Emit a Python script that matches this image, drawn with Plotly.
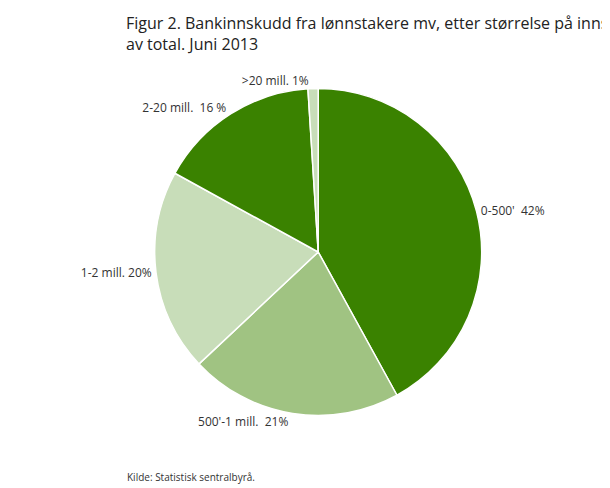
import plotly.graph_objects as go

categories = ["0-500'", "500'-1 mill.", "1-2 mill.", "2-20 mill.", ">20 mill."]
values = [42, 21, 20, 16, 1]
label_text = ["0-500'  42%", "500'-1 mill.  21%", "1-2 mill. 20%", "2-20 mill.  16 %", ">20 mill. 1%"]
colors = ["#3a8200", "#a0c382", "#c8ddb9", "#3a8200", "#c8ddb9"]

fig = go.Figure(go.Pie(
    labels=categories, values=values, text=label_text,
    textinfo="text", textposition="outside", sort=False, direction="clockwise",
    rotation=0, marker=dict(colors=colors, line=dict(color="white", width=1.5)),
    textfont=dict(family="Open Sans", size=12, color="#333333"),
    showlegend=False, domain=dict(x=[0.017, 0.917], y=[0.165, 0.835]),
))
fig.update_layout(
    width=610, height=488, margin=dict(l=0, r=0, t=0, b=0),
    paper_bgcolor="white", font=dict(family="Open Sans"),
    annotations=[
        dict(text="Figur 2. Bankinnskudd fra lønnstakere mv, etter størrelse på innskuddet. Andel<br>av total. Juni 2013",
             x=0.003, y=0.995, xref="paper", yref="paper", xanchor="left", yanchor="top",
             align="left", showarrow=False, font=dict(size=16, color="#222222")),
        dict(text="Kilde: Statistisk sentralbyrå.", x=0.005, y=0.02, xref="paper", yref="paper",
             xanchor="left", yanchor="bottom", showarrow=False,
             font=dict(size=10, color="#333333"))],
)
fig.write_html("out.html")
